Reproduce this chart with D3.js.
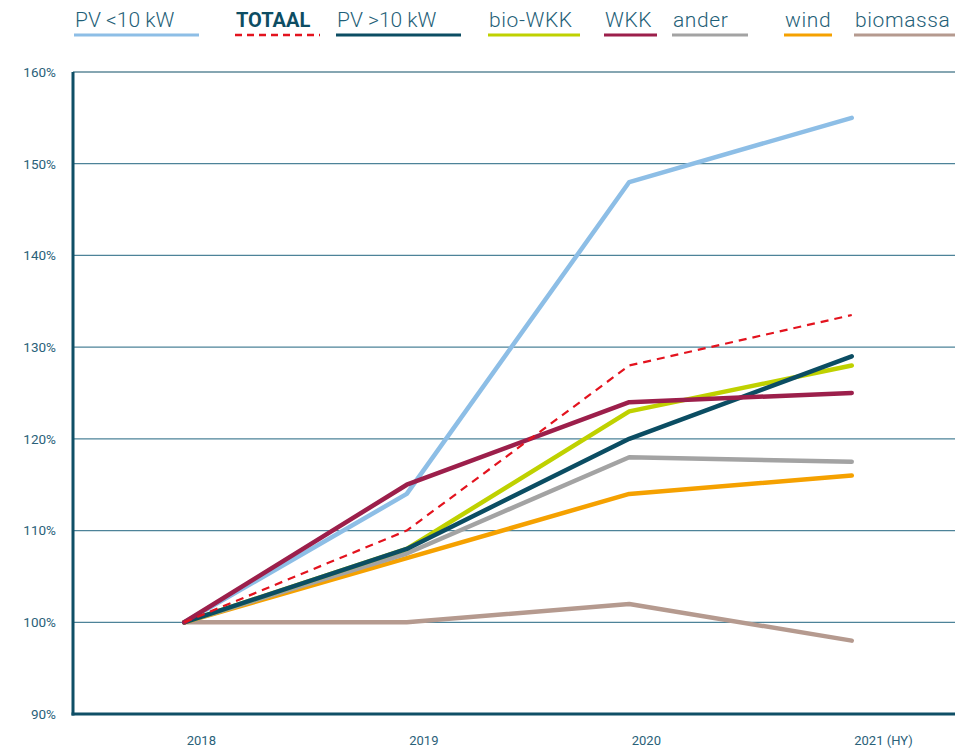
<!DOCTYPE html>
<html><head><meta charset="utf-8">
<script src="https://cdn.jsdelivr.net/npm/d3@7"></script>
<style>body{margin:0;background:#fff}svg{display:block}</style>
</head><body>
<script>
const years = ["2018", "2019", "2020", "2021 (HY)"];
const yTicks = [90, 100, 110, 120, 130, 140, 150, 160];
const seriesNames = ["PV <10 kW", "TOTAAL", "PV >10 kW", "bio-WKK", "WKK", "ander", "wind", "biomassa"];
const seriesColors = ["#8dbee6", "#e3131e", "#0b4d63", "#bfd100", "#9c1f4b", "#a3a3a3", "#f5a100", "#b59a8f"];
const pvSmall  = [100, 114, 148, 155];
const totaal   = [100, 110, 128, 133.5];
const pvLarge  = [100, 108, 120, 129];
const bioWkk   = [100, 108, 123, 128];
const wkk      = [100, 115, 124, 125];
const ander    = [100, 107.5, 118, 117.5];
const wind     = [100, 107, 114, 116];
const biomassa = [100, 100, 102, 98];
const seriesValues = [pvSmall, totaal, pvLarge, bioWkk, wkk, ander, wind, biomassa];
// legend positions (x start, line length)
const legendX = [74, 235, 336, 488, 604, 672, 784, 854];
const legendW = [125, 85, 125, 92, 53, 76, 48, 101];

(function () {
const W = 971, H = 752;
const svg = d3.select("body").append("svg").attr("width", W).attr("height", H);
const mLeft = 73, mRight = 955, mTop = 72, mBottom = 714;
const x = d3.scalePoint().domain(years).range([mLeft, 963]).padding(0.5);
const y = d3.scaleLinear().domain([90, 160]).range([mBottom, mTop]);

// gridlines
svg.append("g").selectAll("line").data(yTicks.filter(t => t > 90)).join("line")
  .attr("x1", mLeft).attr("x2", mRight).attr("y1", d => y(d)).attr("y2", d => y(d))
  .attr("stroke", (d) => d === 160 ? "#0f4f66" : "#4d8399").attr("stroke-width", 1.2);

// y axis labels
const yAxis = d3.axisLeft(y).tickValues(yTicks).tickFormat(d => d + "%").tickSize(0).tickPadding(17);
const gy = svg.append("g").attr("transform", `translate(${mLeft},0)`).call(yAxis);
gy.select(".domain").remove();
gy.selectAll("text").attr("font-family", "Roboto, sans-serif").attr("font-size", 13.5).attr("fill", "#2a6179");

// x axis labels
const xAxis = d3.axisBottom(x).tickSize(0).tickPadding(0);
const gx = svg.append("g").attr("transform", `translate(0,${mBottom})`).call(xAxis);
gx.select(".domain").remove();
gx.selectAll("text").attr("font-family", "Roboto, sans-serif").attr("font-size", 13).attr("fill", "#2a6179")
  .attr("text-anchor", "start").attr("dx", 2).attr("y", 31).attr("dy", 0);

// lines
const line = d3.line().x((d, i) => x(years[i])).y(d => y(d));
const order = [7, 6, 5, 0, 3, 2, 4, 1];
order.forEach(i => {
  const p = svg.append("path").datum(seriesValues[i]).attr("d", line)
    .attr("fill", "none").attr("stroke", seriesColors[i])
    .attr("stroke-linejoin", "round").attr("stroke-linecap", "round");
  if (i === 1) p.attr("stroke-width", 2.2).attr("stroke-dasharray", "8,6").attr("stroke-linecap", "butt");
  else p.attr("stroke-width", 4.5);
});

// axes lines
svg.append("line").attr("x1", mLeft).attr("x2", mLeft).attr("y1", mTop).attr("y2", mBottom + 1.5)
  .attr("stroke", "#0f4f66").attr("stroke-width", 3);
svg.append("line").attr("x1", mLeft - 1.5).attr("x2", mRight).attr("y1", mBottom).attr("y2", mBottom)
  .attr("stroke", "#0f4f66").attr("stroke-width", 3);

// legend
const lg = svg.append("g");
seriesNames.forEach((n, i) => {
  const t = lg.append("text").attr("x", legendX[i] + 1).attr("y", 27).text(n)
    .attr("font-family", "Roboto, sans-serif").attr("font-size", 21);
  if (i === 1) t.attr("font-weight", 700).attr("fill", "#0d4d63").attr("font-size", 20);
  else t.attr("font-weight", 300).attr("fill", "#1f5f78").attr("letter-spacing", i === 0 || i === 2 ? 0 : 0.6);
  const l = lg.append("line").attr("x1", legendX[i]).attr("x2", legendX[i] + legendW[i])
    .attr("y1", 35).attr("y2", 35).attr("stroke", seriesColors[i]).attr("stroke-width", 3);
  if (i === 1) l.attr("stroke-dasharray", "7,5").attr("stroke-width", 2.5);
});
})();
</script>
</body></html>
